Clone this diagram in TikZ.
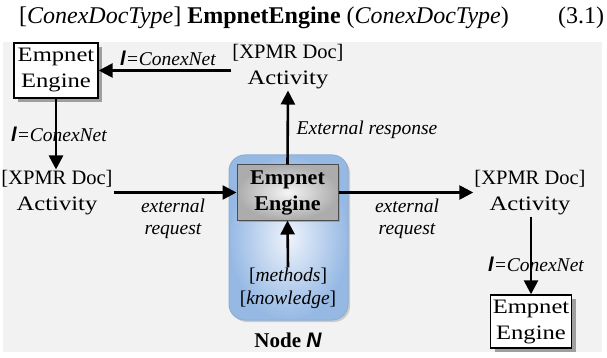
\documentclass[tikz,border=0pt]{standalone}
\usepackage{fontspec}
\setmainfont{Liberation Serif}
\newfontfamily\arialfont{Liberation Sans}
\usetikzlibrary{arrows.meta,shadows}
\definecolor{bg}{RGB}{242,242,242}
\definecolor{blueout}{RGB}{150,185,228}
\definecolor{bluein}{RGB}{238,243,251}
\definecolor{blueline}{RGB}{140,175,215}
\newcommand{\lsym}{{\arialfont\bfseries\itshape\fontsize{20}{20}\selectfont l}}
\newcommand{\fsz}[1]{\fontsize{#1}{26}\selectfont}
\newcommand{\wtxt}[2]{\scalebox{#1}[1]{#2}}
\begin{document}
\begin{tikzpicture}[x=1pt,y=-1pt,
  arr/.style={line width=2.6pt,-{Triangle[length=14pt,width=14pt]}},
  wbox/.style={draw,line width=1.4pt,fill=white,inner sep=0pt,align=center,
    font=\fsz{20.5},drop shadow={shadow xshift=4pt,shadow yshift=-4pt,fill=gray!75,opacity=1}},
  txt/.style={align=center,inner sep=1pt,font=\fsz{20.5}},
  lab/.style={align=center,inner sep=0pt,font=\fontsize{19.5}{21.5}\selectfont\itshape}]
\useasboundingbox (0,0) rectangle (607,358);
\fill[bg] (3,42) rectangle (602,352);
% equation
\node[font=\fontsize{24}{26}\selectfont,inner sep=0pt] (eq) at (264,18) {[\textit{ConexDocType}] \textbf{EmpnetEngine} (\textit{ConexDocType})};
\node[font=\fontsize{24}{26}\selectfont,inner sep=0pt] (eqn) at (581,18) {(3.1)};
% node N container
\node[draw=blueline,line width=1pt,rounded corners=16pt,minimum width=119pt,minimum height=165pt,
  inner color=bluein,outer color=blueout,
  drop shadow={shadow xshift=2pt,shadow yshift=-2pt,fill=gray!60,opacity=0.6}] (cont) at (288.5,237.5) {};
% engine
\node[draw=gray!60!black,line width=1pt,minimum width=101pt,minimum height=55pt,inner sep=0pt,
  inner color=gray!8,outer color=gray!65,align=center,font=\fsz{21}\bfseries,
  drop shadow={shadow xshift=2pt,shadow yshift=-2pt,fill=gray!80,opacity=0.8}] (eng) at (287.5,192.5) {\wtxt{1.05}{Empnet}\\\wtxt{1.05}{Engine}};
% boxes
\node[wbox,minimum width=84pt,minimum height=55pt] (e1) at (56,70.5) {\wtxt{1.2}{Empnet}\\\wtxt{1.2}{Engine}};
\node[wbox,minimum width=81pt,minimum height=53pt] (e2) at (531,321.5) {\wtxt{1.2}{Empnet}\\\wtxt{1.2}{Engine}};
% activities
\node[txt] (act1) at (288,67) {[XPMR Doc]\\\wtxt{1.2}{Activity}};
\node[txt] (act2) at (57,193) {[XPMR Doc]\\\wtxt{1.2}{Activity}};
\node[txt] (act3) at (530,193) {[XPMR Doc]\\\wtxt{1.2}{Activity}};
% methods
\node[lab,font=\fontsize{19.5}{23}\selectfont] (meth) at (288,288) {[\textit{methods}]\\\relax[\textit{knowledge}]};
\node[inner sep=0pt,font=\fsz{21}] (nn) at (288,340) {\textbf{Node} {\arialfont\bfseries\itshape N}};
% arrows
\draw[arr] (act1.west |- e1.east) -- (e1.east);
\draw[arr] (e1.south) -- (e1.south |- act2.north);
\draw[arr] (act2.east |- eng.west) -- (eng.west);
\draw[arr] (eng.north) -- (act1.south);
\draw[arr] (eng.east) -- (act3.west |- eng.east);
\draw[arr] (act3.south -| e2.north) -- (e2.north);
\draw[arr] (meth.north) -- (eng.south);
% labels
\node[lab] (l1) at (168,58) {{\upshape\lsym}=ConexNet};
\node[lab] (l2) at (59,134) {{\upshape\lsym}=ConexNet};
\node[lab] (l3) at (367,130) {External response};
\node[lab] (l4) at (173,219) {external\\request};
\node[lab] (l5) at (407,219) {external\\request};
\node[lab] (l6) at (536,264) {{\upshape\lsym}=ConexNet};
\end{tikzpicture}
\end{document}
